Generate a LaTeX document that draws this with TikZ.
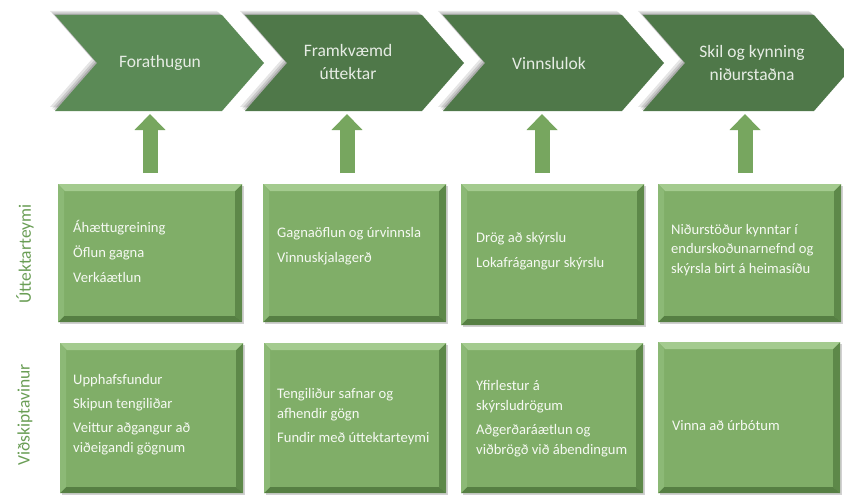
\documentclass[tikz,border=0pt]{standalone}
\usepackage{fontspec}
\setmainfont{Carlito}
\usetikzlibrary{arrows.meta}
\definecolor{chevA}{HTML}{5B8A56}
\definecolor{chevB}{HTML}{4F7849}
\definecolor{chevtext}{HTML}{E6ECE4}
\definecolor{boxgreen}{HTML}{80AE68}
\definecolor{boxlight}{HTML}{A4CB8F}
\definecolor{boxleft}{HTML}{8CB976}
\definecolor{boxdark}{HTML}{5D8849}
\definecolor{boxbottom}{HTML}{567F43}
\definecolor{arrowgreen}{HTML}{77A65F}
\definecolor{sidegreen}{HTML}{6A9E55}
\definecolor{boxtext}{HTML}{F6F9F3}
\newcommand{\boxlines}[1]{\begin{tabular}[t]{@{}l@{}}#1\end{tabular}}
\tikzset{
  chevfill/.style={fill=#1},
  chevshadow/.style={fill=black, opacity=#1},
  chevlabel/.style={text=chevtext, align=center, font=\fontsize{17.5}{22.5}\selectfont, inner sep=0pt},
  greenbox/.style={rectangle, anchor=north west, fill=boxgreen, inner sep=0pt,
    path picture={
      \fill[boxlight] (path picture bounding box.north west) -- (path picture bounding box.north east)
        -- ([xshift=-7pt,yshift=-7pt]path picture bounding box.north east)
        -- ([xshift=7pt,yshift=-7pt]path picture bounding box.north west) -- cycle;
      \fill[boxleft] (path picture bounding box.north west) -- ([xshift=6pt,yshift=-7pt]path picture bounding box.north west)
        -- ([xshift=6pt,yshift=6pt]path picture bounding box.south west) -- (path picture bounding box.south west) -- cycle;
      \fill[boxdark] (path picture bounding box.north east) -- ([xshift=-7pt,yshift=-7pt]path picture bounding box.north east)
        -- ([xshift=-7pt,yshift=6pt]path picture bounding box.south east) -- (path picture bounding box.south east) -- cycle;
      \fill[boxbottom] (path picture bounding box.south west) -- ([xshift=6pt,yshift=6pt]path picture bounding box.south west)
        -- ([xshift=-7pt,yshift=6pt]path picture bounding box.south east) -- (path picture bounding box.south east) -- cycle;
    }},
  boxshadow/.style={fill=black, opacity=0.18},
  boxlabel/.style={text=boxtext, anchor=base west, inner sep=0pt,
    font=\fontsize{14.6}{20}\selectfont},
  sidelabel/.style={text=sidegreen, rotate=90, inner sep=0pt, font=\fontsize{17.5}{20}\selectfont},
  blockarrow/.style={draw=arrowgreen, line width=15pt, -{Triangle[width=30pt,length=16pt]}}
}
\begin{document}
\begin{tikzpicture}[x=1pt,y=-1pt]
\useasboundingbox (0,0) rectangle (844,495);
\fill[white] (0,0) rectangle (844,495);

% chevrons: left L, right R, top 15, bottom 111, mid 63, depth 42
\foreach \L/\R/\c in {55/222/chevA, 245/422/chevB, 443/622/chevB, 643/814/chevB}{
  \fill[chevshadow=0.10] (\L-5,15-4) -- (\R-5,15-4) -- (\R+42-5,63-4) -- (\R-5,111-4) -- (\L-5,111-4) -- (\L+42-5,63-4) -- cycle;
  \fill[chevshadow=0.12] (\L-3,15-2.5) -- (\R-3,15-2.5) -- (\R+42-3,63-2.5) -- (\R-3,111-2.5) -- (\L-3,111-2.5) -- (\L+42-3,63-2.5) -- cycle;
  \fill[chevshadow=0.15] (\L-1.5,15-1) -- (\R-1.5,15-1) -- (\R+42-1.5,63-1) -- (\R-1.5,111-1) -- (\L-1.5,111-1) -- (\L+42-1.5,63-1) -- cycle;
}
\foreach \L/\R/\c in {55/222/chevA, 245/422/chevB, 443/622/chevB, 643/814/chevB}{
  \fill[chevfill=\c] (\L,15) -- (\R,15) -- (\R+42,63) -- (\R,111) -- (\L,111) -- (\L+42,63) -- cycle;
}
\node[chevlabel] (c1) at (160,63) {Forathugun};
\node[chevlabel] (c2) at (348,62) {Framkvæmd\\úttektar};
\node[chevlabel] (c3) at (549,63) {Vinnslulok};
\node[chevlabel] (c4) at (752,63) {Skil og kynning\\niðurstaðna};

% side labels
\node[sidelabel] (sU) at (25,254) {Úttektarteymi};
\node[sidelabel] (sV) at (25,415) {Viðskiptavinur};

% box shadows
\foreach \x/\y/\w/\h in {58/184/184/138, 263/184/183/138, 461/184/183/141, 658/184/183/138,
                         60/343/183/150, 264/343/182/150, 461/343/182/150, 658/342/182/151}{
  \fill[boxshadow] (\x+2,\y+2) rectangle (\x+\w+2,\y+\h+2);
}
% boxes
\node[greenbox, minimum width=184pt, minimum height=138pt] (u1) at (58,184) {};
\node[greenbox, minimum width=183pt, minimum height=138pt] (u2) at (263,184) {};
\node[greenbox, minimum width=183pt, minimum height=141pt] (u3) at (461,184) {};
\node[greenbox, minimum width=183pt, minimum height=138pt] (u4) at (658,184) {};
\node[greenbox, minimum width=183pt, minimum height=150pt] (v1) at (60,343) {};
\node[greenbox, minimum width=182pt, minimum height=150pt] (v2) at (264,343) {};
\node[greenbox, minimum width=182pt, minimum height=150pt] (v3) at (461,343) {};
\node[greenbox, minimum width=182pt, minimum height=151pt] (v4) at (658,342) {};

% box texts
\node[boxlabel] (tu1) at (73,232) {\boxlines{Áhættugreining\\[5pt]Öflun gagna\\[5pt]Verkáætlun}};
\node[boxlabel] (tu2) at (277,237) {\boxlines{Gagnaöflun og úrvinnsla\\[5pt]Vinnuskjalagerð}};
\node[boxlabel] (tu3) at (476,242) {\boxlines{Drög að skýrslu\\[5pt]Lokafrágangur skýrslu}};
\node[boxlabel] (tu4) at (671,234) {\boxlines{Niðurstöður kynntar í\\[-0.5pt]endurskoðunarnefnd og\\[-0.5pt]skýrsla birt á heimasíðu}};
\node[boxlabel] (tv1) at (73,384) {\boxlines{Upphafsfundur\\[4pt]Skipun tengiliðar\\[4pt]Veittur aðgangur að\\viðeigandi gögnum}};
\node[boxlabel] (tv2) at (277,398) {\boxlines{Tengiliður safnar og\\afhendir gögn\\[4pt]Fundir með úttektarteymi}};
\node[boxlabel] (tv3) at (476,390) {\boxlines{Yfirlestur á\\skýrsludrögum\\[4pt]Aðgerðaráætlun og\\viðbrögð við ábendingum}};
\node[boxlabel] (tv4) at (672,430) {Vinna að úrbótum};

% arrows
\foreach \i/\x in {1/150, 2/347, 3/542, 4/745}{
  \coordinate (as\i) at (\x,173);
  \coordinate (ae\i) at (\x,114);
  \draw[blockarrow] (as\i) -- (ae\i);
}
\end{tikzpicture}
\end{document}
